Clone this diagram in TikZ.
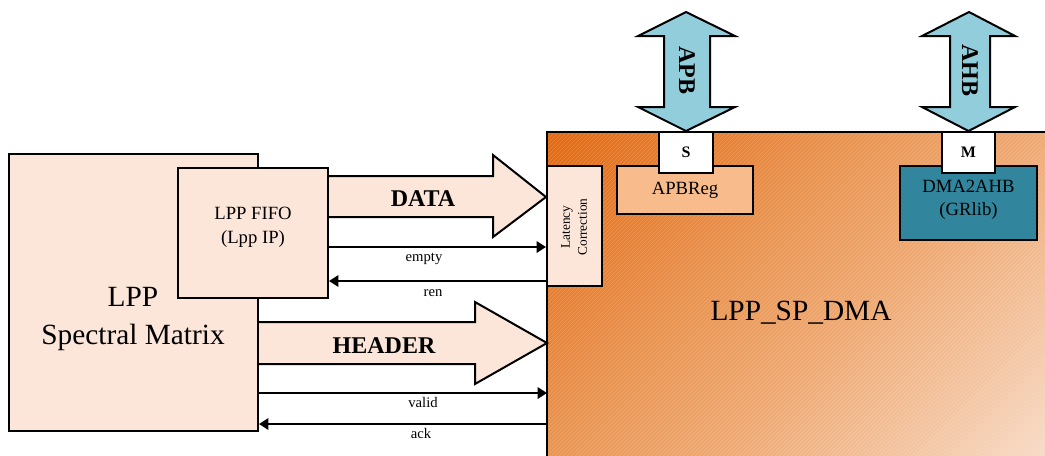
\documentclass[tikz,border=0pt]{standalone}
\usepackage{fontspec}
\setmainfont{Liberation Serif}
\usetikzlibrary{arrows.meta,patterns}

\definecolor{peach}{HTML}{FCE6D9}
\definecolor{regfill}{HTML}{F8BC8C}
\definecolor{ahbfill}{HTML}{31859C}
\definecolor{busfill}{HTML}{92CDDC}
\definecolor{dmaA}{HTML}{E4680E}
\definecolor{dmaB}{HTML}{EC9550}
\definecolor{dmaC}{HTML}{F0A86F}
\definecolor{dmaD}{HTML}{F8DAC4}

% diagonal orange ramp for the DMA block (light at the bottom, dark at the top)
\pgfdeclareverticalshading{dmaramp}{100bp}{%
  color(0bp)=(dmaD); color(14.6bp)=(dmaD); color(42.9bp)=(dmaC);
  color(57.1bp)=(dmaB); color(85.4bp)=(dmaA); color(100bp)=(dmaA)}

\tikzset{
  blk/.style={draw, line width=1.5pt, inner sep=0pt, align=center},
  txt/.style={inner sep=0pt, align=center},
  sig/.style={line width=1.5pt, -{Triangle[length=7pt,width=8.5pt]}},
  fatarrow/.style={draw, line width=1.5pt, fill=peach, line join=miter},
  busarrow/.style={draw, line width=1.5pt, fill=busfill, line join=miter},
  lbl/.style={inner sep=0pt, font=\fontsize{11}{13}\selectfont},
}

\begin{document}
\begin{tikzpicture}[x=0.75pt, y=-0.75pt]
\useasboundingbox (0,0) rectangle (1045,455);

% DMA block: shaded, hatched, running off the right and bottom edges
\begin{scope}
  \clip (0,0) rectangle (1045,455);
  \shade[shading=dmaramp, shading angle=45] (547,132) rectangle (1045,455);
  \fill[pattern=north east lines, pattern color=white, opacity=0.18]
    (547,132) rectangle (1052,462);
  \draw[line width=1.5pt] (547,132) rectangle (1052,462);
\end{scope}
\coordinate (dmaNW) at (547,132);
\node[txt, font=\fontsize{22}{26}\selectfont] (dmatxt) at (801,313) {LPP\_SP\_DMA};

% spectral matrix and its FIFO
\node[blk, fill=peach, minimum width=186.75pt, minimum height=207.75pt] (sm) at (133.5,292.5) {};
\node[txt, font=\fontsize{22}{29}\selectfont] (smtxt) at (133,319) {LPP\\Spectral Matrix};
\node[blk, fill=peach, minimum width=112.5pt, minimum height=97.5pt] (fifo) at (253,233) {};
\node[txt, font=\fontsize{14}{18}\selectfont] (fifotxt) at (253,227) {LPP FIFO\\(Lpp IP)};

% latency correction stage
\node[blk, fill=peach, minimum width=41.25pt, minimum height=90pt] (lat) at (574.5,226) {};
\node[txt, rotate=90, font=\fontsize{10}{12.75}\selectfont] (lattxt) at (574,227) {Latency\\Correction};

% APB slave side
\node[blk, fill=regfill, minimum width=102pt, minimum height=36pt,
      font=\fontsize{14}{17}\selectfont] (apbreg) at (685,190) {APBReg};
\node[blk, fill=white, minimum width=40.5pt, minimum height=30.75pt,
      font=\fontsize{12}{14}\selectfont\bfseries] (slv) at (686,152.5) {S};

% AHB master side
\node[blk, fill=ahbfill, minimum width=102.75pt, minimum height=55.5pt] (dma2ahb) at (968.5,203) {};
\node[txt, font=\fontsize{14}{17}\selectfont] (dma2ahbtxt) at (968.5,200) {DMA2AHB\\(GRlib)};
\node[blk, fill=white, minimum width=40pt, minimum height=30.75pt,
      font=\fontsize{12}{14}\selectfont\bfseries] (mst) at (968.5,152.5) {M};

% bus arrows
\draw[busarrow] (686,12) -- (638,36) -- (664,36) -- (664,107) -- (638,107)
  -- (slv.north) -- (735,107) -- (710,107) -- (710,36) -- (735,36) -- cycle;
\node[txt, rotate=-90, font=\fontsize{18}{20}\selectfont\bfseries] (apbtxt) at (687,70) {APB};
\draw[busarrow] (969,12) -- (922,36) -- (950,36) -- (950,107) -- (922,107)
  -- (mst.north) -- (1015,107) -- (990,107) -- (990,36) -- (1015,36) -- cycle;
\node[txt, rotate=-90, font=\fontsize{18}{20}\selectfont\bfseries] (ahbtxt) at (970,70) {AHB};

% data path
\draw[fatarrow] (fifo.east |- 0,176) -- (493,176) -- (493,155) -- (lat.west |- 0,197)
  -- (493,237) -- (493,217) -- (fifo.east |- 0,217);
\node[txt, font=\fontsize{18}{20}\selectfont\bfseries] (datatxt) at (423,199) {DATA};
\draw[sig] (fifo.east |- 0,247) -- (lat.west |- 0,247);
\node[lbl] (emptytxt) at (424,259) {empty};
\draw[sig] (lat.west |- 0,281) -- (fifo.east |- 0,281);
\node[lbl] (rentxt) at (433,293) {ren};

% header path
\draw[fatarrow] (sm.east |- 0,322) -- (475,322) -- (475,302) -- (dmaNW |- 0,343)
  -- (475,384) -- (475,364) -- (sm.east |- 0,364);
\node[txt, font=\fontsize{18}{20}\selectfont\bfseries] (headertxt) at (384,346) {HEADER};
\draw[sig] (sm.east |- 0,393) -- (dmaNW |- 0,393);
\node[lbl] (validtxt) at (423,402) {valid};
\draw[sig] (dmaNW |- 0,424) -- (sm.east |- 0,424);
\node[lbl] (acktxt) at (421,433) {ack};
\end{tikzpicture}
\end{document}
